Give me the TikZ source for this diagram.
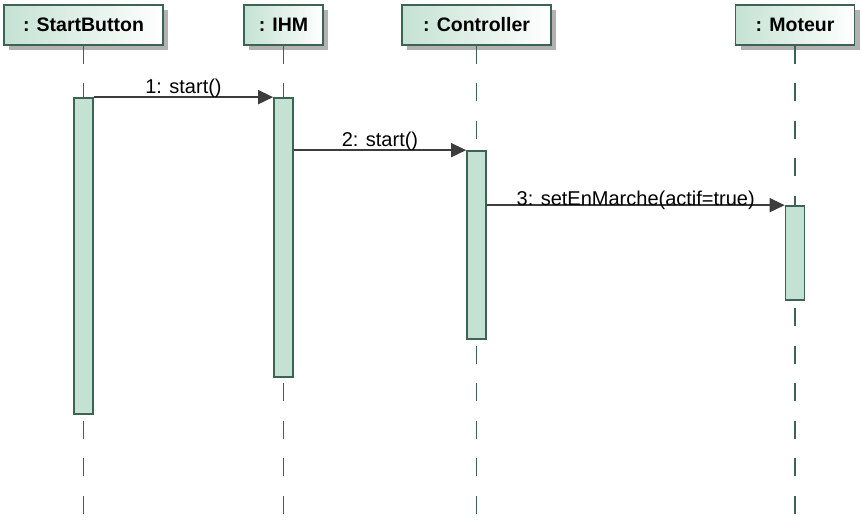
\documentclass[tikz,border=0pt]{standalone}
\usepackage{fontspec}
\setmainfont{Liberation Sans}
\usetikzlibrary{arrows.meta,shadows}
\definecolor{lifegreen}{RGB}{62,98,84}
\definecolor{boxgreen}{RGB}{196,226,211}
\definecolor{msggray}{RGB}{60,60,60}

\begin{document}
\begin{tikzpicture}[x=1pt,y=1pt,
    objbox/.style={draw=lifegreen, line width=1.7pt, left color=boxgreen, right color=white,
      minimum height=40pt, inner sep=0pt, font=\bfseries\fontsize{19.5}{22}\selectfont,
      drop shadow={shadow xshift=5pt, shadow yshift=-5pt, fill=black!30, opacity=1}},
    lifeline/.style={draw=lifegreen, line width=1.7pt, dash pattern=on 18pt off 19.5pt},
    actbar/.style={draw=lifegreen, line width=1.7pt, fill=boxgreen, minimum width=19pt, inner sep=0pt},
    msg/.style={draw=msggray, line width=1.6pt, -{Triangle[length=15pt,width=14pt]}},
    msglabel/.style={font=\fontsize{20}{22}\selectfont, inner sep=0pt}]
    \useasboundingbox (0,0) rectangle (862,-529);

    % objects
    \node[objbox, minimum width=159pt] (sb) at (83.5,-25) {: StartButton};
    \node[objbox, minimum width=79pt] (ihm) at (283.5,-25) {: IHM};
    \node[objbox, minimum width=149pt] (ctrl) at (476.5,-25) {: Controller};
    \node[objbox, minimum width=119pt] (mot) at (795,-25) {: Moteur};

    % lifelines
    \coordinate (sbend) at (83.5,-529);
    \coordinate (ihmend) at (283.5,-529);
    \coordinate (ctrlend) at (476.5,-529);
    \coordinate (motend) at (795,-529);
    \draw[lifeline] (sb.south) -- (sbend);
    \draw[lifeline] (ihm.south) -- (ihmend);
    \draw[lifeline] (ctrl.south) -- (ctrlend);
    \draw[lifeline] (mot.south) -- (motend);

    % activations
    \node[actbar, minimum height=316pt] (a1) at (83.5,-256) {};
    \node[actbar, minimum height=279pt] (a2) at (283.5,-237.5) {};
    \node[actbar, minimum height=188pt] (a3) at (476.5,-245) {};
    \node[actbar, minimum height=94pt] (a4) at (795,-253) {};

    % messages
    \draw[msg] (a1.north east) -- node[msglabel, above=-1.5pt] {1: start()} (a2.north west);
    \draw[msg] (a2.east |- a3.north) -- node[msglabel, above=-1.5pt] {2: start()} (a3.north west);
    \draw[msg] (a3.east |- a4.north) -- node[msglabel, above=-5pt] {3: setEnMarche(actif=true)} (a4.north west);
\end{tikzpicture}
\end{document}
